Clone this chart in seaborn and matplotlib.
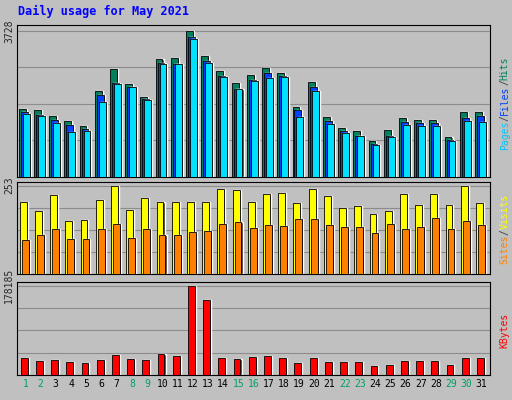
import matplotlib
matplotlib.use("Agg")
import matplotlib.pyplot as plt
import seaborn as sns
import numpy as np

days = list(range(1, 32))
weekend = [1, 2, 8, 9, 15, 16, 22, 23, 29, 30]
hits = [1724, 1699, 1547, 1420, 1293, 2181, 2765, 2384, 2029, 3017, 3043, 3728, 3094, 2714, 2409, 2612, 2790, 2663, 1775, 2434, 1521, 1242, 1166, 913, 1192, 1496, 1445, 1445, 1014, 1648, 1648]
files = [1648, 1572, 1445, 1319, 1217, 2080, 2409, 2308, 1978, 2917, 2891, 3576, 2968, 2587, 2257, 2486, 2663, 2587, 1699, 2308, 1420, 1166, 1040, 837, 1040, 1395, 1369, 1369, 938, 1496, 1547]
pages = [1597, 1547, 1369, 1141, 1166, 1902, 2384, 2308, 1953, 2891, 2891, 3525, 2917, 2562, 2232, 2460, 2536, 2562, 1521, 2181, 1344, 1116, 1040, 812, 1014, 1319, 1293, 1293, 913, 1420, 1395]
visits = [205, 180, 225, 152, 155, 211, 253, 183, 216, 205, 205, 205, 205, 242, 239, 205, 230, 233, 202, 242, 222, 188, 194, 171, 180, 228, 197, 228, 197, 253, 202]
sites = [96, 112, 129, 101, 101, 129, 143, 104, 129, 112, 112, 121, 124, 143, 149, 132, 141, 138, 157, 157, 141, 135, 135, 118, 143, 129, 135, 160, 129, 152, 141]
kbytes = [33000, 27000, 29000, 25000, 23000, 29000, 39000, 31000, 29000, 41000, 37000, 178185, 149000, 33000, 31000, 35000, 37000, 33000, 23000, 33000, 25000, 25000, 25000, 17000, 19000, 27000, 27000, 27000, 19000, 33000, 33000]

sns.set_style("white")
plt.rcParams['font.family'] = ['DejaVu Sans Mono', 'DejaVu Sans']
BG = "#C0C0C0"
fig = plt.figure(figsize=(5.12, 4.0), dpi=100, facecolor=BG)
fig.text(0.035, 0.962, "Daily usage for May 2021", color="#0000FF", fontsize=8.5, fontweight="bold")

x = np.array(days, dtype=float)
L, W = 17/512, 473/512

def panel(bottom, height, series, colors, top):
    ax = fig.add_axes([L, bottom, W, height])
    ax.set_facecolor(BG)
    n = len(series)
    bw = 0.45
    step = 0.13
    start = -0.08 - step*(n-1)/2
    for i, (s, c) in enumerate(zip(series, colors)):
        xs = x + start + i*step
        ax.bar(xs + 0.07, s, width=bw, color="#303030", align="center", zorder=2 + 2*i)
        ax.bar(xs, s, width=bw, color=c, edgecolor="black", linewidth=0.6, zorder=3 + 2*i)
    ax.set_xlim(0.45, 31.55)
    ax.set_ylim(0, top*1.04)
    for g in np.linspace(0, top, 5)[1:]:
        ax.axhline(g, color="#8C8C8C", linewidth=0.8, zorder=1)
    ax.set_yticks([top])
    ax.set_yticklabels([str(top)], rotation=90, va="center", fontsize=7)
    ax.tick_params(axis="y", length=0, pad=2)
    ax.set_xticks([])
    for sp in ax.spines.values():
        sp.set_color("black"); sp.set_linewidth(0.8)
    return ax

a1 = panel(1-177/400, 152/400, [hits, files, pages], ["#00805C", "#0040FF", "#00E0FF"], 3728)
a2 = panel(1-274/400, 92/400, [visits, sites], ["#FFFF00", "#FF8000"], 253)
a3 = panel(1-375/400, 93/400, [kbytes], ["#FF0000"], 178185)
a3.set_xticks(days)
a3.set_xticklabels([str(d) for d in days], fontsize=7)
a3.tick_params(axis="x", length=0, pad=3)
for lab, d in zip(a3.get_xticklabels(), days):
    lab.set_color("#00A060" if d in weekend else "black")

CH = 0.0146
def rlabel(y, parts):
    tot = sum(len(t) for t, _ in parts)
    pos = y - tot*CH/2
    for t, c in parts:
        fig.text(0.986, pos + len(t)*CH/2, t, color=c, rotation=90, fontsize=7,
                 ha="center", va="center")
        pos += len(t)*CH

rlabel(1-103/400, [("Pages", "#00C0FF"), ("/", "#404040"), ("Files", "#0040FF"), ("/", "#404040"), ("Hits", "#00805C")])
rlabel(1-229/400, [("Sites", "#FF8000"), ("/", "#404040"), ("Visits", "#FFFF00")])
rlabel(1-330/400, [("KBytes", "#FF0000")])

fig.savefig("out.png", dpi=100, facecolor=BG)
